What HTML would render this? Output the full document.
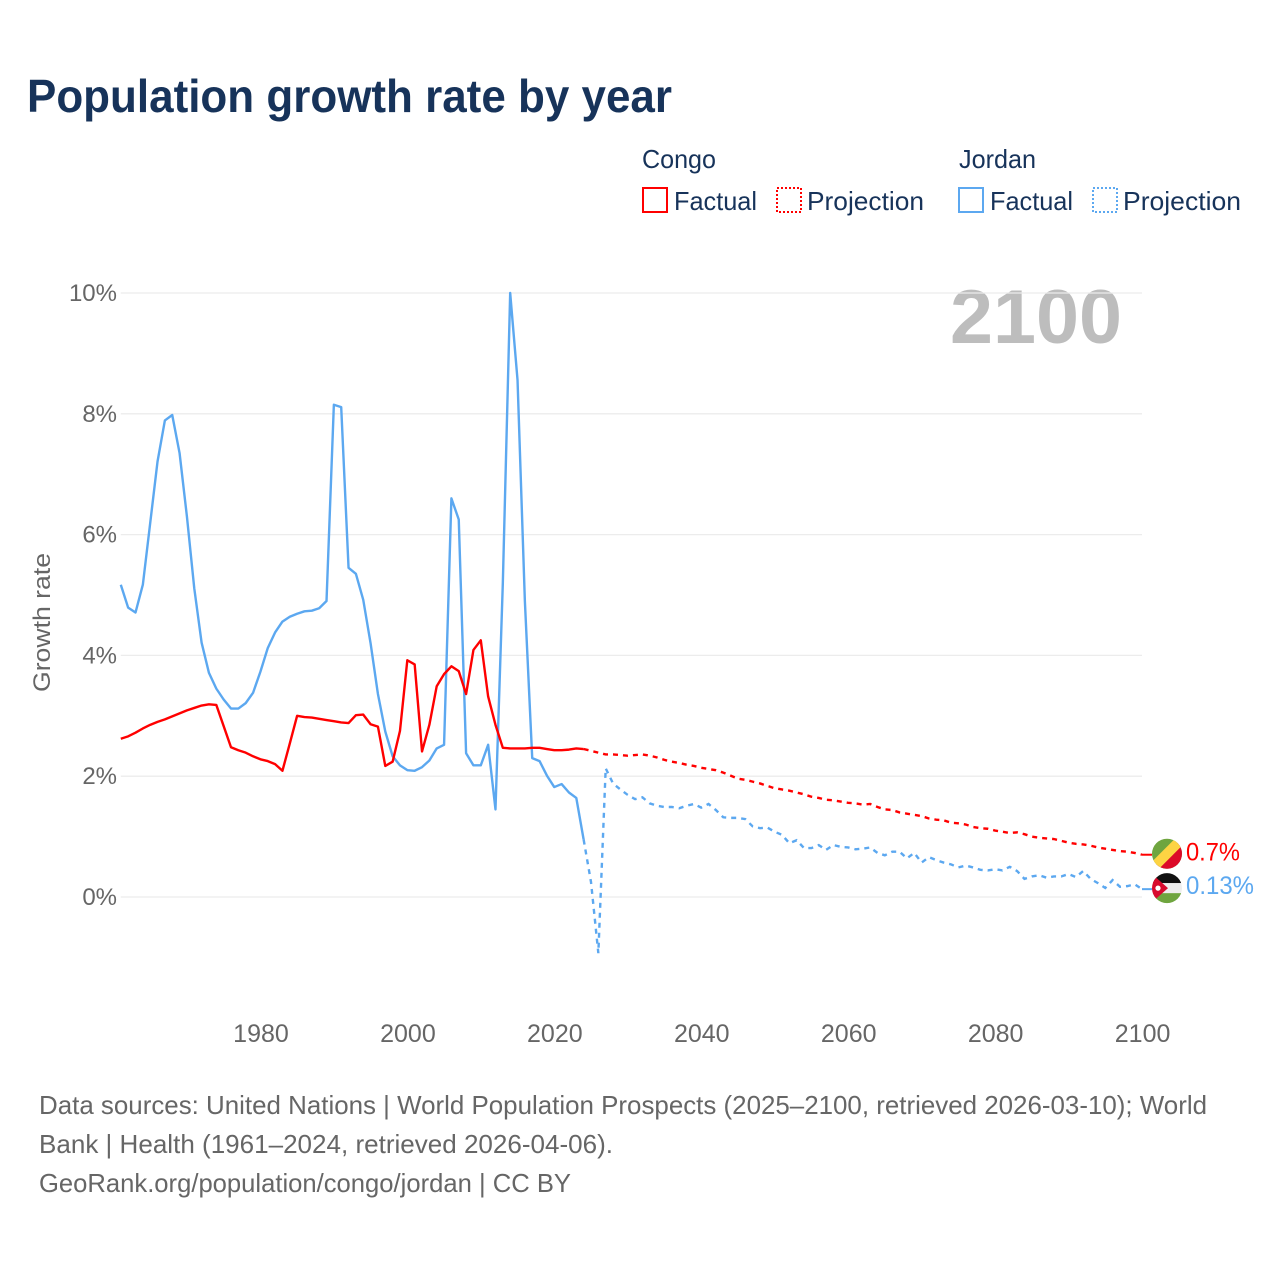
<!DOCTYPE html>
<html lang="en">
<head>
<meta charset="utf-8">
<title>Population growth rate by year</title>
<style>
html,body{margin:0;padding:0;background:#fff;}
svg{display:block;font-family:"Liberation Sans",sans-serif;}
</style>
</head>
<body>
<svg id="chart" xmlns="http://www.w3.org/2000/svg" width="1280" height="1280" viewBox="0 0 1280 1280">
  <defs>
    <clipPath id="flag-clip"><circle cx="0" cy="0" r="15"/></clipPath>
  </defs>
  <rect width="1280" height="1280" fill="#ffffff"/>

  <text x="27" y="112" font-size="46" font-weight="700" fill="#17335a" textLength="645" lengthAdjust="spacingAndGlyphs">Population growth rate by year</text>

  <g>
    <text x="642" y="168" font-size="26" fill="#17335a" textLength="74" lengthAdjust="spacingAndGlyphs">Congo</text>
    <rect x="643" y="188" width="24" height="24" fill="none" stroke="#ff0000" stroke-width="2"/>
    <text x="674" y="210" font-size="26" fill="#17335a" textLength="83" lengthAdjust="spacingAndGlyphs">Factual</text>
    <rect x="777" y="188" width="24" height="24" fill="none" stroke="#ff0000" stroke-width="2" stroke-dasharray="2 2"/>
    <text x="807" y="210" font-size="26" fill="#17335a" textLength="117" lengthAdjust="spacingAndGlyphs">Projection</text>

    <text x="959" y="168" font-size="26" fill="#17335a" textLength="77" lengthAdjust="spacingAndGlyphs">Jordan</text>
    <rect x="959" y="188" width="24" height="24" fill="none" stroke="#5ca8f0" stroke-width="2"/>
    <text x="990" y="210" font-size="26" fill="#17335a" textLength="83" lengthAdjust="spacingAndGlyphs">Factual</text>
    <rect x="1093" y="188" width="24" height="24" fill="none" stroke="#5ca8f0" stroke-width="2" stroke-dasharray="2 2"/>
    <text x="1123" y="210" font-size="26" fill="#17335a" textLength="118" lengthAdjust="spacingAndGlyphs">Projection</text>
  </g>

  <text x="1122" y="343" font-size="76" font-weight="700" fill="#bdbdbd" text-anchor="end" textLength="172" lengthAdjust="spacingAndGlyphs">2100</text>

  <g id="grid"></g>
  <g id="y-ticks"></g>
  <g id="x-ticks"></g>

  <text transform="translate(50,622.5) rotate(-90)" font-size="24" fill="#666666" text-anchor="middle" textLength="139" lengthAdjust="spacingAndGlyphs">Growth rate</text>

  <g id="series"></g>

  <g id="flag-congo" clip-path="url(#flag-clip)">
    <rect x="-16" y="-16" width="32" height="32" fill="#6fa53f"/>
    <polygon points="18,-18 18,18 -18,18" fill="#dc0a28"/>
    <line x1="-18" y1="18" x2="18" y2="-18" stroke="#fdd443" stroke-width="10"/>
  </g>
  <g id="flag-jordan" clip-path="url(#flag-clip)">
    <rect x="-16" y="-16" width="32" height="11" fill="#111111"/>
    <rect x="-16" y="-5" width="32" height="10" fill="#eeeeee"/>
    <rect x="-16" y="5" width="32" height="11" fill="#6fa53f"/>
    <polygon points="-16,-15 1,0 -16,15" fill="#d80b2e"/>
    <circle cx="-9" cy="0" r="2.6" fill="#ffffff"/>
  </g>
  <text id="label-congo" x="1186" font-size="25" fill="#ff0000" textLength="54" lengthAdjust="spacingAndGlyphs"></text>
  <text id="label-jordan" x="1186" font-size="25" fill="#5ca8f0" textLength="68" lengthAdjust="spacingAndGlyphs"></text>

  <g fill="#666666" font-size="26">
    <text x="39" y="1114" textLength="1168" lengthAdjust="spacingAndGlyphs">Data sources: United Nations | World Population Prospects (2025–2100, retrieved 2026-03-10); World</text>
    <text x="39" y="1153" textLength="574" lengthAdjust="spacingAndGlyphs">Bank | Health (1961–2024, retrieved 2026-04-06).</text>
    <text x="39" y="1192" textLength="532" lengthAdjust="spacingAndGlyphs">GeoRank.org/population/congo/jordan | CC BY</text>
  </g>
</svg>
<script>
const factualStartYear = 1961;
const projectionStartYear = 2024;
const yTickValues = [0, 2, 4, 6, 8, 10];
const yTickLabels = ['0%', '2%', '4%', '6%', '8%', '10%'];
const xTickValues = [1980, 2000, 2020, 2040, 2060, 2080, 2100];
const xTickLabels = ['1980', '2000', '2020', '2040', '2060', '2080', '2100'];
const endLabels = ['0.7%', '0.13%'];

const congoFactual = [2.62,2.66,2.72,2.79,2.85,2.90,2.94,2.99,3.04,3.09,3.13,3.17,3.19,3.18,2.83,2.48,2.43,2.39,2.33,2.28,2.25,2.20,2.09,2.54,3.00,2.98,2.97,2.95,2.93,2.91,2.89,2.88,3.01,3.02,2.86,2.82,2.17,2.24,2.75,3.92,3.85,2.41,2.85,3.49,3.69,3.82,3.74,3.36,4.09,4.25,3.32,2.85,2.47,2.46,2.46,2.46,2.47,2.47,2.45,2.43,2.43,2.44,2.46,2.45];
const congoProjection = [2.45,2.42,2.39,2.36,2.36,2.35,2.34,2.35,2.36,2.34,2.31,2.27,2.24,2.22,2.19,2.17,2.14,2.12,2.10,2.06,2.01,1.96,1.94,1.91,1.88,1.84,1.80,1.78,1.76,1.73,1.70,1.66,1.64,1.61,1.60,1.58,1.56,1.55,1.53,1.54,1.49,1.45,1.44,1.40,1.38,1.36,1.34,1.30,1.28,1.27,1.23,1.22,1.20,1.16,1.14,1.13,1.10,1.08,1.06,1.07,1.04,1.00,0.98,0.97,0.96,0.93,0.90,0.88,0.87,0.85,0.82,0.80,0.78,0.76,0.75,0.73,0.70];
const jordanFactual = [5.17,4.79,4.71,5.17,6.19,7.21,7.89,7.98,7.35,6.30,5.11,4.21,3.71,3.45,3.27,3.12,3.12,3.21,3.38,3.73,4.12,4.38,4.56,4.64,4.69,4.73,4.74,4.78,4.90,8.15,8.11,5.45,5.35,4.92,4.20,3.36,2.74,2.33,2.18,2.10,2.09,2.15,2.26,2.46,2.52,6.60,6.25,2.38,2.18,2.18,2.52,1.45,5.20,10.00,8.56,4.90,2.30,2.25,2.01,1.82,1.87,1.73,1.64,0.95];
const jordanProjection = [0.95,0.25,-0.93,2.13,1.88,1.78,1.69,1.62,1.65,1.55,1.51,1.49,1.49,1.47,1.51,1.54,1.48,1.54,1.44,1.32,1.31,1.31,1.29,1.17,1.14,1.15,1.08,1.03,0.89,0.94,0.81,0.81,0.86,0.78,0.86,0.83,0.82,0.79,0.80,0.82,0.73,0.69,0.75,0.75,0.64,0.73,0.57,0.66,0.61,0.57,0.54,0.49,0.52,0.49,0.45,0.44,0.46,0.44,0.50,0.43,0.30,0.34,0.36,0.32,0.34,0.34,0.38,0.33,0.43,0.30,0.23,0.15,0.28,0.17,0.18,0.21,0.13];

const NS = 'http://www.w3.org/2000/svg';
function xScale(year) { return 120.8 + (year - 1961) * (1021.2 / 139); }
function yScale(v) { return 897 - v * 60.4; }

function pathFrom(values, startYear) {
  return values.map(function (v, i) {
    return (i ? 'L' : 'M') + xScale(startYear + i).toFixed(2) + ' ' + yScale(v).toFixed(2);
  }).join(' ');
}

const gridGroup = document.getElementById('grid');
const yTickGroup = document.getElementById('y-ticks');
yTickValues.forEach(function (v, i) {
  const line = document.createElementNS(NS, 'line');
  
  
  line.setAttribute('x1', xScale(factualStartYear));
  line.setAttribute('x2', xScale(2100));
  line.setAttribute('y1', yScale(v));
  line.setAttribute('y2', yScale(v));
  line.setAttribute('stroke', '#ececec');
  line.setAttribute('stroke-width', '1.3');
  gridGroup.appendChild(line);

  const label = document.createElementNS(NS, 'text');
  
  
  label.setAttribute('x', 117);
  label.setAttribute('y', yScale(v) + 8);
  label.setAttribute('text-anchor', 'end');
  label.setAttribute('font-size', '24');
  label.setAttribute('fill', '#666666');
  label.textContent = yTickLabels[i];
  yTickGroup.appendChild(label);
});

const xTickGroup = document.getElementById('x-ticks');
xTickValues.forEach(function (yr, i) {
  const label = document.createElementNS(NS, 'text');
  
  
  label.setAttribute('x', xScale(yr) + 0.6);
  label.setAttribute('y', 1042);
  label.setAttribute('text-anchor', 'middle');
  label.setAttribute('font-size', '25');
  label.setAttribute('fill', '#666666');
  label.textContent = xTickLabels[i];
  xTickGroup.appendChild(label);
});

const seriesGroup = document.getElementById('series');

const congoFactualLine = document.createElementNS(NS, 'path');


congoFactualLine.setAttribute('d', pathFrom(congoFactual, factualStartYear));
congoFactualLine.setAttribute('fill', 'none');
congoFactualLine.setAttribute('stroke', '#ff0000');
congoFactualLine.setAttribute('stroke-width', '2.4');
congoFactualLine.setAttribute('stroke-linejoin', 'round');

const congoProjectionLine = document.createElementNS(NS, 'path');


congoProjectionLine.setAttribute('d', pathFrom(congoProjection, projectionStartYear));
congoProjectionLine.setAttribute('fill', 'none');
congoProjectionLine.setAttribute('stroke', '#ff0000');
congoProjectionLine.setAttribute('stroke-width', '2.4');
congoProjectionLine.setAttribute('stroke-dasharray', '5 5');

const jordanFactualLine = document.createElementNS(NS, 'path');


jordanFactualLine.setAttribute('d', pathFrom(jordanFactual, factualStartYear));
jordanFactualLine.setAttribute('fill', 'none');
jordanFactualLine.setAttribute('stroke', '#5ca8f0');
jordanFactualLine.setAttribute('stroke-width', '2.4');
jordanFactualLine.setAttribute('stroke-linejoin', 'round');

const jordanProjectionLine = document.createElementNS(NS, 'path');


jordanProjectionLine.setAttribute('d', pathFrom(jordanProjection, projectionStartYear));
jordanProjectionLine.setAttribute('fill', 'none');
jordanProjectionLine.setAttribute('stroke', '#5ca8f0');
jordanProjectionLine.setAttribute('stroke-width', '2.4');
jordanProjectionLine.setAttribute('stroke-dasharray', '5 5');

seriesGroup.appendChild(jordanFactualLine);
seriesGroup.appendChild(jordanProjectionLine);
seriesGroup.appendChild(congoFactualLine);
seriesGroup.appendChild(congoProjectionLine);

const congoEndY = yScale(congoProjection[congoProjection.length - 1]);
const jordanEndY = yScale(jordanProjection[jordanProjection.length - 1]);

const congoLeader = document.createElementNS(NS, 'line');


congoLeader.setAttribute('x1', xScale(2100));
congoLeader.setAttribute('x2', xScale(2100) + 10);
congoLeader.setAttribute('y1', congoEndY);
congoLeader.setAttribute('y2', congoEndY);
congoLeader.setAttribute('stroke', '#ff0000');
congoLeader.setAttribute('stroke-width', '2');
seriesGroup.appendChild(congoLeader);

const jordanLeader = document.createElementNS(NS, 'line');


jordanLeader.setAttribute('x1', xScale(2100));
jordanLeader.setAttribute('x2', xScale(2100) + 10);
jordanLeader.setAttribute('y1', jordanEndY);
jordanLeader.setAttribute('y2', jordanEndY);
jordanLeader.setAttribute('stroke', '#5ca8f0');
jordanLeader.setAttribute('stroke-width', '2');
seriesGroup.appendChild(jordanLeader);

document.getElementById('flag-congo').setAttribute('transform', 'translate(1167,' + (congoEndY - 1) + ')');
document.getElementById('flag-jordan').setAttribute('transform', 'translate(1167,' + (jordanEndY - 1) + ')');

const congoLabel = document.getElementById('label-congo');
congoLabel.setAttribute('y', congoEndY + 6);
congoLabel.textContent = endLabels[0];
const jordanLabel = document.getElementById('label-jordan');
jordanLabel.setAttribute('y', jordanEndY + 5);
jordanLabel.textContent = endLabels[1];
</script>
</body>
</html>
